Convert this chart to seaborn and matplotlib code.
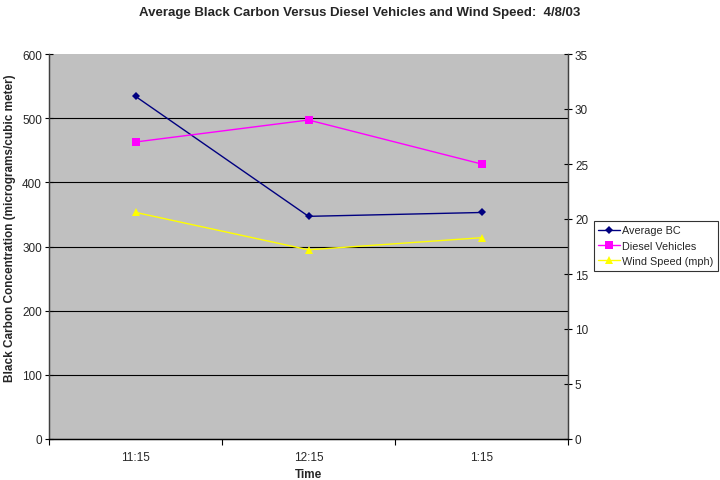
import matplotlib
matplotlib.use("Agg")
import matplotlib.pyplot as plt
import seaborn as sns
import pandas as pd

# Readings for 4/8/03
times = ["11:15", "12:15", "1:15"]
average_bc = [534, 347, 353]          # micrograms / cubic meter (left axis)
diesel_vehicles = [27, 29, 25]        # count (right axis)
wind_speed = [20.6, 17.2, 18.3]       # mph (right axis)

left_ticks = [0, 100, 200, 300, 400, 500, 600]
right_ticks = [0, 5, 10, 15, 20, 25, 30, 35]

sns.set_theme(style="white")
plt.rcParams["font.family"] = ["Liberation Sans", "DejaVu Sans"]

df = pd.DataFrame({
    "Time": times,
    "Average BC": average_bc,
    "Diesel Vehicles": diesel_vehicles,
    "Wind Speed (mph)": wind_speed,
})

fig = plt.figure(figsize=(7.2, 4.81), dpi=100)
ax = fig.add_axes([49 / 720, 41 / 481, 519 / 720, 385 / 481])
ax2 = ax.twinx()

ax.set_facecolor("#C0C0C0")
ax.set_zorder(0)
ax2.set_zorder(1)
ax2.patch.set_visible(False)

sns.lineplot(data=df, x="Time", y="Average BC", ax=ax, color="#000080",
             marker="D", markersize=4.5, linewidth=1.0, markeredgewidth=0,
             label="Average BC", legend=False, zorder=3)
sns.lineplot(data=df, x="Time", y="Diesel Vehicles", ax=ax2, color="#FF00FF",
             marker="s", markersize=5.5, linewidth=1.0, markeredgewidth=0,
             label="Diesel Vehicles", legend=False)
sns.lineplot(data=df, x="Time", y="Wind Speed (mph)", ax=ax2, color="#FFFF00",
             marker="^", markersize=5.5, linewidth=1.0, markeredgewidth=0,
             label="Wind Speed (mph)", legend=False)

ax.set_xlim(-0.5, len(times) - 0.5)
ax.set_ylim(0, 600)
ax2.set_ylim(0, 35)
ax.set_yticks(left_ticks)
ax2.set_yticks(right_ticks)

# category ticks sit between the points, labels under each point
ax.set_xticks([i - 0.5 for i in range(len(times) + 1)])
ax.set_xticklabels([])
ax.set_xticks(range(len(times)), minor=True)
ax.set_xticklabels(times, minor=True)
ax.tick_params(axis="x", which="major", direction="out", length=4, width=0.8,
               color="black", bottom=True)
ax.tick_params(axis="x", which="minor", length=0, labelsize=8.5, pad=9)

ax.tick_params(axis="y", direction="inout", length=6, width=0.8, color="black",
               labelsize=8.5, left=True, pad=2)
ax2.tick_params(axis="y", direction="inout", length=6, width=0.8, color="black",
                labelsize=8.5, right=True, pad=2)

for y in left_ticks[1:-1]:
    ax.axhline(y, color="black", linewidth=0.8, zorder=1)

for a in (ax, ax2):
    a.spines["top"].set_visible(False)
    a.spines["left"].set_color("#404040")
    a.spines["right"].set_color("#404040")
    a.spines["bottom"].set_color("black")
    for s in a.spines.values():
        s.set_linewidth(0.9)

ax.set_xlabel("Time", fontsize=8.5, fontweight="bold", labelpad=3)
ax.set_ylabel("Black Carbon Concentration (micrograms/cubic meter)",
              fontsize=8.5, fontweight="bold")
ax.yaxis.set_label_coords(-0.063, 0.55)
ax2.set_ylabel("")

fig.suptitle("Average Black Carbon Versus Diesel Vehicles and Wind Speed:  4/8/03",
             x=0.5, y=0.985, fontsize=9.5, fontweight="bold")

handles = ax.get_lines()[:1] + ax2.get_lines()[:2]
labels = ["Average BC", "Diesel Vehicles", "Wind Speed (mph)"]
leg = fig.legend(handles, labels, loc="upper right",
                 bbox_to_anchor=(718 / 720, 1 - 222 / 481),
                 fontsize=7.8, frameon=True, fancybox=False,
                 handlelength=2.0, handletextpad=0.25, borderpad=0.4,
                 labelspacing=0.5, borderaxespad=0)
leg.get_frame().set_edgecolor("black")
leg.get_frame().set_linewidth(0.8)

fig.savefig("out.png", dpi=100)
